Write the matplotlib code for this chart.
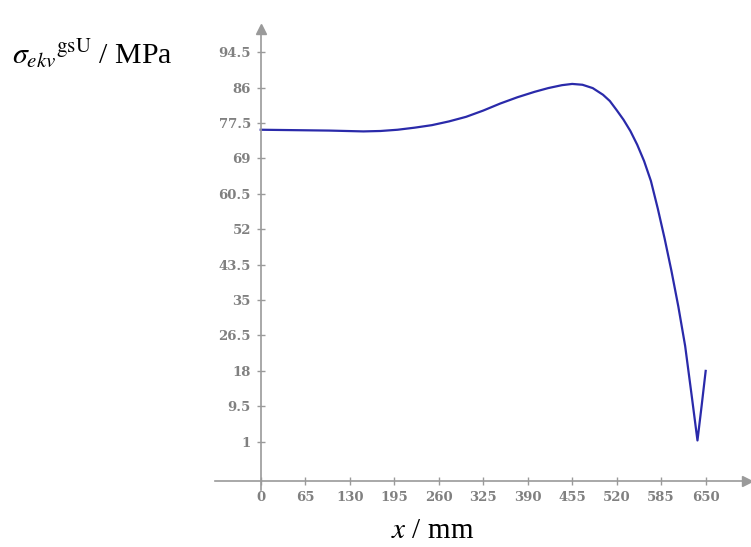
import numpy as np
import matplotlib.pyplot as plt

plt.rcParams['mathtext.fontset'] = 'stix'

# values
x_mm = [0, 25, 50, 75, 100, 125, 150, 175, 200, 225, 250, 275, 300, 325,
        350, 375, 400, 420, 440, 455, 470, 485, 500, 510, 520, 530, 540,
        550, 560, 570, 580, 590, 600, 610, 620, 630, 638, 644, 650]
sigma = [75.9, 75.85, 75.8, 75.75, 75.7, 75.6, 75.5, 75.6, 75.9, 76.4,
         77.0, 77.9, 79.0, 80.5, 82.2, 83.7, 85.0, 85.9, 86.6, 86.9, 86.7,
         85.9, 84.3, 82.8, 80.6, 78.3, 75.6, 72.3, 68.4, 63.6, 57.0, 49.8,
         42.0, 33.5, 24.0, 11.5, 1.3, 9.5, 18.0]

xticks = np.arange(0, 651, 65)
yticks = np.arange(1, 95, 8.5)
ytick_labels = ['1', '9.5', '18', '26.5', '35', '43.5', '52', '60.5',
                '69', '77.5', '86', '94.5']

fig = plt.figure(figsize=(7.51, 5.47), dpi=100)
ax = fig.add_axes([0, 0, 1, 1])
# data limits chosen so 0..650 / 1..94.5 land where the reference has them
ax.set_xlim(-380.8, 716.2)
ax.set_ylim(-24.28, 107.05)
ax.patch.set_alpha(0)

axis_col = '#9a9a9a'
for s in ['top', 'right']:
    ax.spines[s].set_visible(False)
ax.spines['left'].set_position(('data', 0))
ax.spines['bottom'].set_position(('data', -8.5))
ax.spines['left'].set_bounds(-10.5, 99)
ax.spines['bottom'].set_bounds(-66.5, 705)
for s in ['left', 'bottom']:
    ax.spines[s].set_color(axis_col)
    ax.spines[s].set_linewidth(1.2)

# arrow heads
ax.plot(0, 100, marker='^', color=axis_col, markersize=7, clip_on=False)
ax.plot(710, -8.5, marker='>', color=axis_col, markersize=7, clip_on=False)

ax.set_xticks(xticks)
ax.set_yticks(yticks)
ax.set_yticklabels(ytick_labels)
ax.tick_params(direction='inout', length=6, width=1, color=axis_col,
               labelcolor='#808080', labelsize=9.5, pad=4)
for lab in ax.get_xticklabels() + ax.get_yticklabels():
    lab.set_family('DejaVu Serif')
    lab.set_fontweight('bold')

ax.plot(x_mm, sigma, color='#2a2aaa', linewidth=1.6)

fig.text(12 / 751, 1 - 63 / 547, r'${\sigma_{ekv}}^{\mathrm{gsU}}$ / MPa',
         family='Liberation Serif', fontsize=21.5, va='baseline', ha='left')
fig.text(433 / 751, 1 - 538 / 547, r'$x$ / mm',
         family='Liberation Serif', fontsize=21, va='baseline', ha='center')

fig.savefig('out.png', dpi=100)
